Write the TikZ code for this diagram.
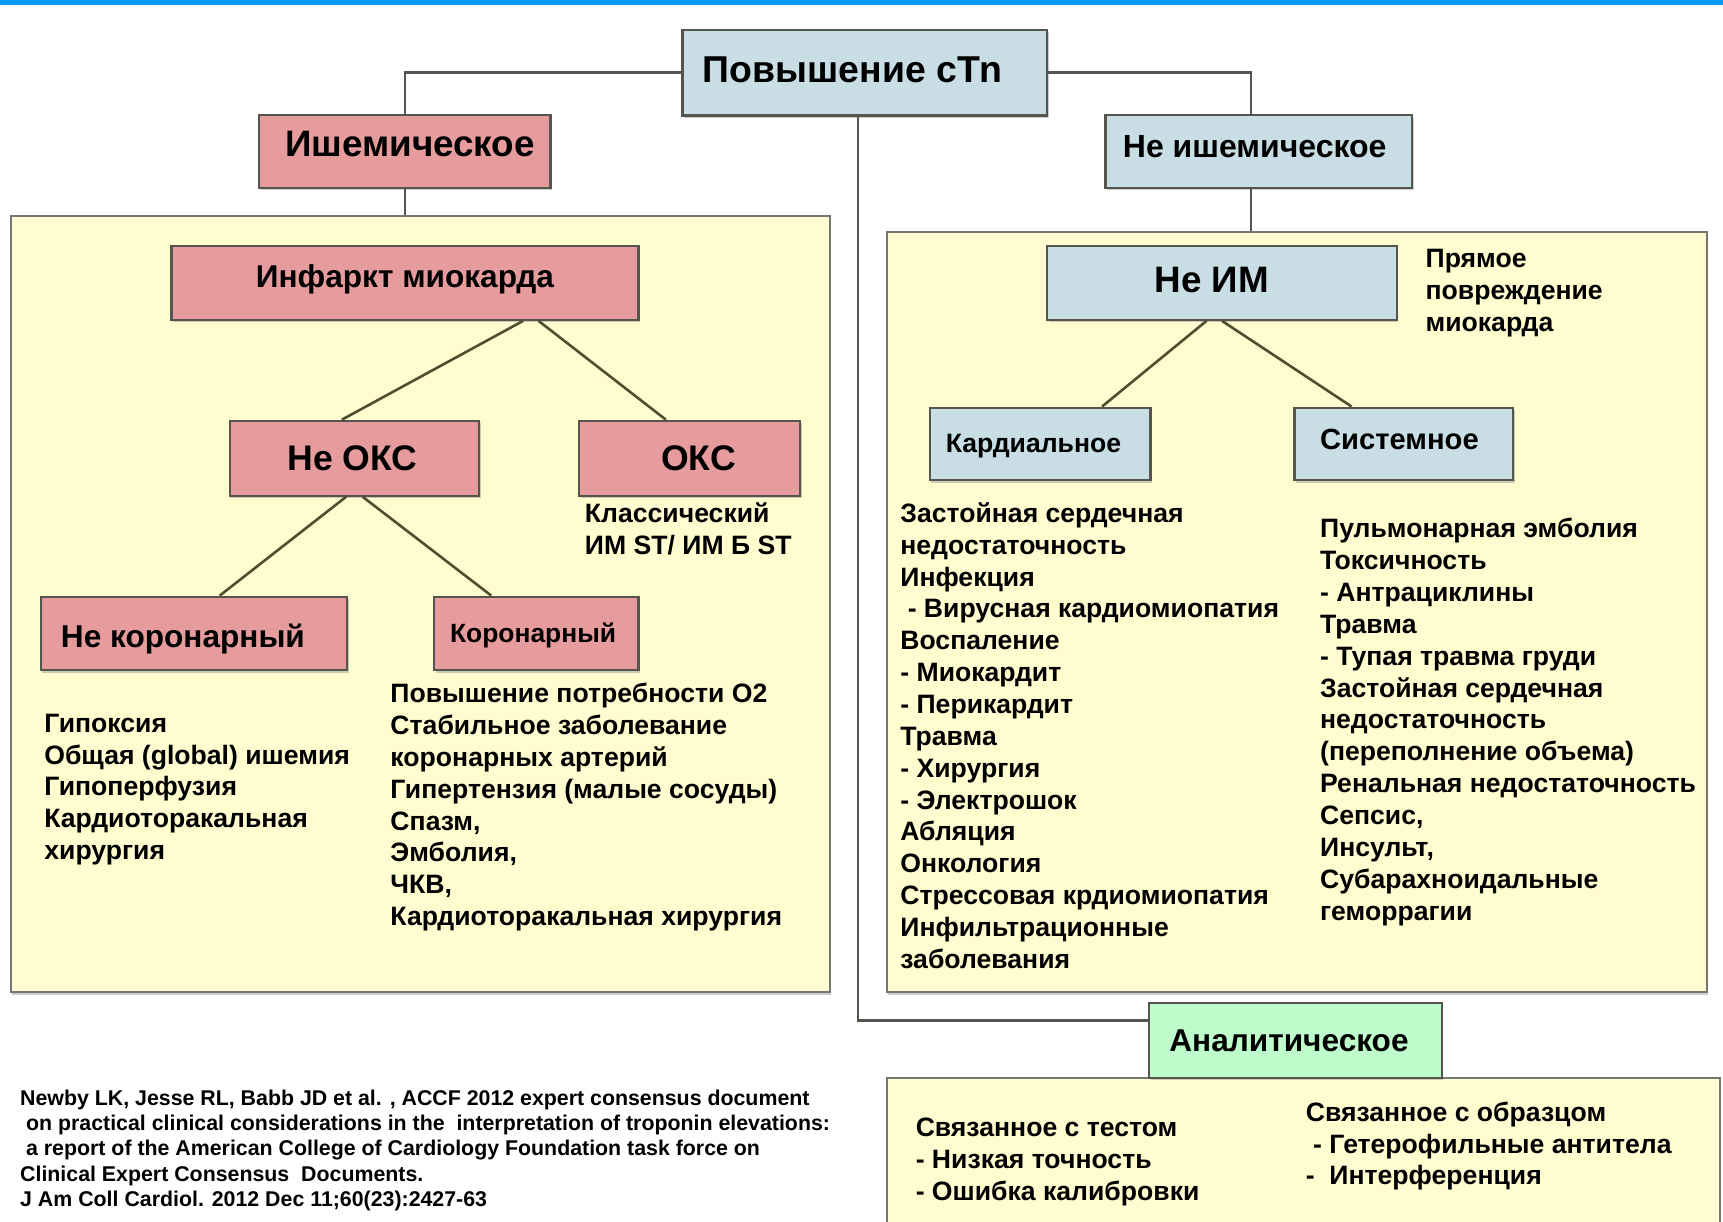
\documentclass[tikz,border=0pt]{standalone}
\usepackage{fontspec}
\setmainfont{Liberation Sans}
\usetikzlibrary{fit,shadows}
\definecolor{bluec}{HTML}{C8DDE4}
\definecolor{pinkc}{HTML}{E69B9D}
\definecolor{yellowc}{HTML}{FFFDD0}
\definecolor{greenc}{HTML}{BFFCCB}
\definecolor{bordc}{HTML}{55554F}
\definecolor{diagc}{HTML}{4F4F30}
\definecolor{barc}{HTML}{0A98F5}
\newcommand\fsz[2]{\bfseries\fontsize{#1}{#2}\selectfont}
\newcommand\tp{\rule{0pt}{11pt}}
\newcommand\sh[3]{\raisebox{#2}[\height][\depth]{\hspace*{#1}#3\hspace*{-#1}}}
\begin{document}
\begin{tikzpicture}[x=0.54945pt, y=-0.54945pt,
  box/.style={draw=bordc, line width=1.1pt, inner sep=0pt,
    drop shadow={shadow xshift=0.8pt, shadow yshift=-1.2pt, opacity=0.4}},
  bluebox/.style={box, fill=bluec},
  pinkbox/.style={box, fill=pinkc},
  greenbox/.style={box, fill=greenc},
  panel/.style={draw=bordc!80, line width=1pt, fill=yellowc, inner sep=0pt,
    drop shadow={shadow xshift=0.6pt, shadow yshift=-1.4pt, opacity=0.4}},
  conn/.style={draw=bordc, line width=1.2pt},
  diag/.style={draw=diagc, line width=1.3pt},
  lst/.style={anchor=north west, inner sep=0pt, align=left, font=\fsz{13.3}{15.93}},
  cite/.style={anchor=north west, inner sep=0pt, align=left, font=\fsz{10.67}{12.64}}
]
\clip (0,0) rectangle (1568,1112);
\fill[white] (0,0) rectangle (1568,1112);
\fill[barc] (0,0) rectangle (1568,5);

% panels
\node[panel, fit={(10,197)(755,903)}] (lpanel) {};
\node[panel, fit={(807,211)(1553,903)}] (rpanel) {};
\node[panel, fit={(807,981)(1565,1125)}] (bpanel) {};

% top level boxes
\node[bluebox, minimum width=182.4pt, minimum height=42.9pt, font=\fsz{18.7}{22}] (top) at (787,66) {\sh{-6pt}{1.6pt}{Повышение cTn}};
\node[pinkbox, minimum width=145.6pt, minimum height=36.3pt, font=\fsz{18.4}{22}] (isch) at (368.5,138) {\sh{2.5pt}{3.8pt}{Ишемическое}};
\node[bluebox, minimum width=153.3pt, minimum height=36.3pt, font=\fsz{16}{19}] (nonisch) at (1145.5,138) {\sh{-2pt}{2.7pt}{Не ишемическое}};
\node[greenbox, minimum width=146.2pt, minimum height=37.4pt, font=\fsz{15.8}{19}] (analyt) at (1179,947) {\sh{-3.3pt}{0pt}{Аналитическое}};

% left tree
\node[pinkbox, minimum width=233.5pt, minimum height=36.8pt, font=\fsz{15.8}{19}] (mi) at (368.5,257.5) {\sh{0pt}{1.6pt}{Инфаркт миокарда}};
\node[pinkbox, minimum width=124.7pt, minimum height=37.4pt, font=\fsz{17.8}{21}] (neoks) at (322.5,417) {\sh{-1pt}{0pt}{Не ОКС}};
\node[pinkbox, minimum width=110.4pt, minimum height=37.4pt, font=\fsz{17.8}{21}] (oks) at (627.5,417) {\sh{4.5pt}{0pt}{ОКС}};
\node[pinkbox, minimum width=153.3pt, minimum height=36.8pt, font=\fsz{15.8}{19}] (nekor) at (176.5,576.5) {\sh{-5.5pt}{-2.7pt}{Не коронарный}};
\node[pinkbox, minimum width=102.2pt, minimum height=36.8pt, font=\fsz{13.2}{16}] (kor) at (488,576.5) {\sh{-1.6pt}{-1pt}{Коронарный}};

% right tree
\node[bluebox, minimum width=174.7pt, minimum height=36.8pt, font=\fsz{18.4}{22}] (neim) at (1112,257.5) {\sh{-5pt}{1.6pt}{Не ИМ}};
\node[bluebox, minimum width=110.4pt, minimum height=36.3pt, font=\fsz{13.3}{16}] (card) at (946.5,404) {\sh{-3.3pt}{-1pt}{Кардиальное}};
\node[bluebox, minimum width=109.3pt, minimum height=36.3pt, font=\fsz{14.6}{18}] (sys) at (1277.5,404) {\sh{-2.2pt}{2.2pt}{Системное}};

% connectors from top
\draw[conn] (top.west) -| (isch.north);
\draw[conn] (top.east) -| ([xshift=-4pt]nonisch.north);
\draw[conn] ([xshift=-3.3pt]top.south) |- ([yshift=10pt]analyt.west);
\draw[conn] (isch.south) -- (isch.south |- lpanel.north);
\draw[conn] ([xshift=-4pt]nonisch.south) -- ([xshift=-4pt]nonisch.south |- rpanel.north);

% diagonals
\draw[diag] ([xshift=59.1pt]mi.south) -- ([xshift=-6.3pt]neoks.north);
\draw[diag] ([xshift=66.8pt]mi.south) -- ([xshift=-11.8pt]oks.north);
\draw[diag] ([xshift=-4.1pt]neoks.south) -- ([xshift=12.9pt]nekor.north);
\draw[diag] ([xshift=4.1pt]neoks.south) -- ([xshift=-22.5pt]kor.north);
\draw[diag] ([xshift=-7.7pt]neim.south) -- ([xshift=31pt]card.north);
\draw[diag] (neim.south) -- ([xshift=-26.1pt]sys.north);

% texts
\node[lst] (oksT) at (532,455) {\tp Классический\\ИМ ST/ ИМ Б ST};
\node[lst] (nekorT) at (40,646) {\tp Гипоксия\\Общая (global) ишемия\\Гипоперфузия\\Кардиоторакальная\\хирургия};
\node[lst] (korT) at (355,619) {\tp Повышение потребности О2\\Стабильное заболевание\\коронарных артерий\\Гипертензия (малые сосуды)\\Спазм,\\Эмболия,\\ЧКВ,\\Кардиоторакальная хирургия};
\node[lst] (neimT) at (1297,223) {\tp Прямое\\повреждение\\миокарда};
\node[lst] (cardT) at (819,455) {\tp Застойная сердечная\\недостаточность\\Инфекция\\~- Вирусная кардиомиопатия\\Воспаление\\- Миокардит\\- Перикардит\\Травма\\- Хирургия\\- Электрошок\\Абляция\\Онкология\\Стрессовая крдиомиопатия\\Инфильтрационные\\заболевания};
\node[lst] (sysT) at (1201,469) {\tp Пульмонарная эмболия\\Токсичность\\- Антрациклины\\Травма\\- Тупая травма груди\\Застойная сердечная\\недостаточность\\(переполнение объема)\\Ренальная недостаточность\\Сепсис,\\Инсульт,\\Субарахноидальные\\геморрагии};
\node[lst] (testT) at (833,1014) {\tp Связанное с тестом\\- Низкая точность\\- Ошибка калибровки};
\node[lst] (sampT) at (1188,1000) {\tp Связанное с образцом\\~- Гетерофильные антитела\\-~ Интерференция};
\node[cite] (citeT) at (18,989) {\rule{0pt}{9pt}Newby LK, Jesse RL, Babb JD et al. , ACCF 2012 expert consensus document\\~on practical clinical considerations in the~ interpretation of troponin elevations:\\~a report of the American College of Cardiology Foundation task force on\\Clinical Expert Consensus~ Documents.\\J Am Coll Cardiol. 2012 Dec 11;60(23):2427-63};
\end{tikzpicture}
\end{document}
